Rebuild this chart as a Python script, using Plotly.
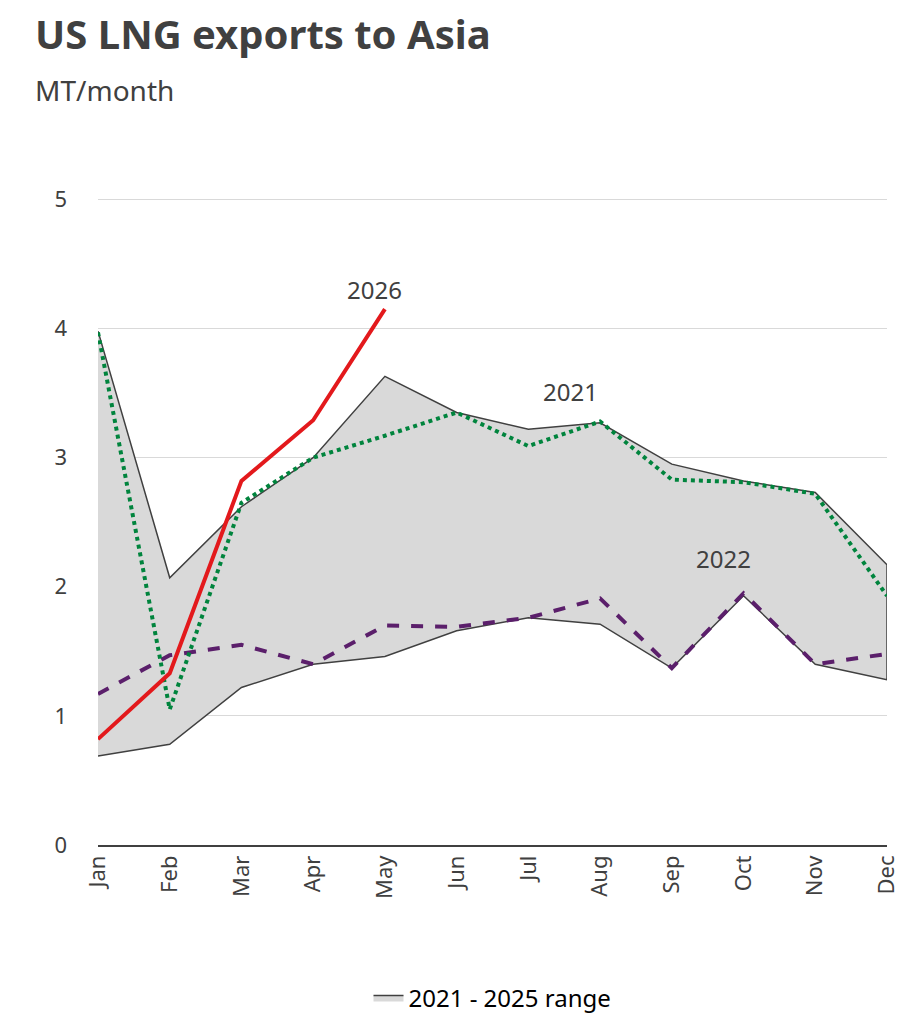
import plotly.graph_objects as go

months = ["Jan", "Feb", "Mar", "Apr", "May", "Jun", "Jul", "Aug", "Sep", "Oct", "Nov", "Dec"]

range_hi = [3.98, 2.07, 2.62, 3.0, 3.63, 3.35, 3.22, 3.27, 2.95, 2.82, 2.73, 2.17]
range_lo = [0.69, 0.78, 1.22, 1.40, 1.46, 1.66, 1.76, 1.71, 1.37, 1.93, 1.40, 1.28]
y2021 = [3.97, 1.05, 2.65, 3.0, 3.17, 3.35, 3.09, 3.28, 2.83, 2.81, 2.72, 1.93]
y2022 = [1.17, 1.47, 1.55, 1.40, 1.70, 1.69, 1.76, 1.91, 1.37, 1.95, 1.40, 1.48]
y2026 = [0.82, 1.33, 2.82, 3.29, 4.15]

fig = go.Figure()
fig.add_trace(go.Scatter(x=months + months[::-1], y=range_hi + range_lo[::-1],
                         fill="toself", fillcolor="#d9d9d9",
                         line=dict(color="#404040", width=1.5),
                         name="2021 - 2025 range", mode="lines"))
fig.add_trace(go.Scatter(x=months, y=y2022, mode="lines", showlegend=False,
                         line=dict(color="#5b1f6b", width=4, dash="dash")))
fig.add_trace(go.Scatter(x=months, y=y2021, mode="lines", showlegend=False,
                         line=dict(color="#00843d", width=4, dash="dot")))
fig.add_trace(go.Scatter(x=months[:5], y=y2026, mode="lines", showlegend=False,
                         line=dict(color="#e3191c", width=4)))

fig.add_annotation(x="May", y=4.15, text="2026", showarrow=False, yshift=20, xshift=-10,
                   font=dict(size=24))
fig.add_annotation(x="Aug", y=3.28, text="2021", showarrow=False, yshift=30, xshift=-30,
                   font=dict(size=24))
fig.add_annotation(x="Oct", y=1.95, text="2022", showarrow=False, yshift=35, xshift=-20,
                   font=dict(size=24))

fig.update_layout(
    width=904, height=1024,
    paper_bgcolor="white", plot_bgcolor="white",
    font=dict(family="Noto Sans", size=22, color="#404040"),
    title=dict(text="<b>US LNG exports to Asia</b><br><span style='font-size:28px'>MT/month</span>",
               x=0.03, y=0.96, font=dict(size=40, color="#404040")),
    margin=dict(l=90, r=25, t=185, b=130),
    legend=dict(orientation="h", x=0.5, xanchor="center", y=-0.2, yanchor="top",
                font=dict(size=24, color="#000000")),
)
fig.update_xaxes(tickangle=-90, showline=True, linecolor="#404040", linewidth=1.5,
                 tickfont=dict(size=22, color="#404040"))
fig.update_yaxes(range=[0, 5.05], dtick=1, gridcolor="#d9d9d9", zeroline=False,
                 tickfont=dict(size=22, color="#404040"), ticklabelstandoff=30)

fig.write_html("out.html")
